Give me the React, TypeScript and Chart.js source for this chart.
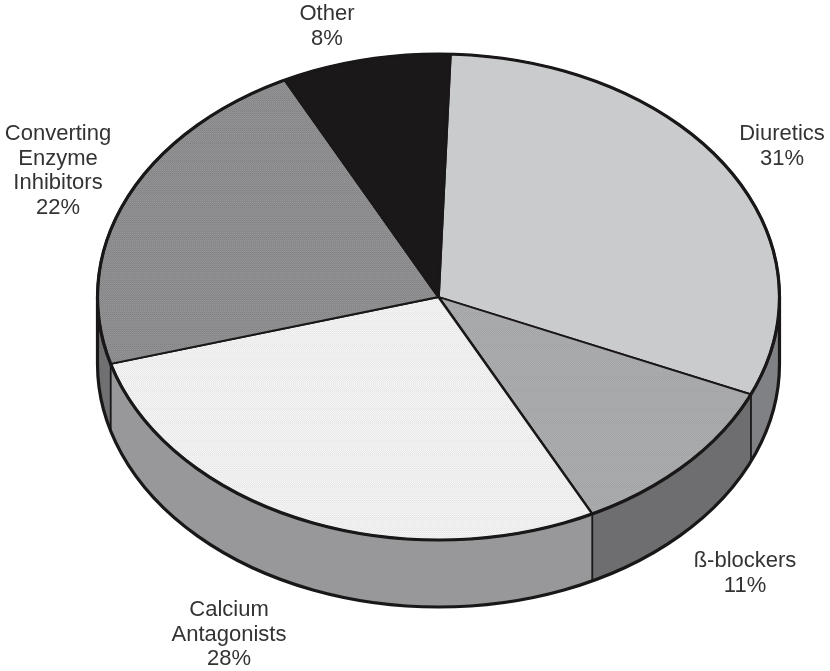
import React, { useEffect, useRef } from "react";
import { Chart, registerables } from "chart.js";

Chart.register(...registerables);

const categories = ["Diuretics", "ß-blockers", "Calcium Antagonists", "Converting Enzyme Inhibitors", "Other"];
const shares = [31, 11, 28, 22, 8];
const labelLines = [
  ["Diuretics", "31%"],
  ["ß-blockers", "11%"],
  ["Calcium", "Antagonists", "28%"],
  ["Converting", "Enzyme", "Inhibitors", "22%"],
  ["Other", "8%"],
];

// Top-face tone and speckle tone of each slice, then the tone of its rim.
const faceColors = ["#c9cbcd", "#adaeb0", "#f6f6f6", "#969698", "#1b1819"];
const speckleColors = ["#c9cbcd", "#9d9ea0", "#e0e0e0", "#7a7a7c", "#1b1819"];
const rimColors = ["#808184", "#6e6e70", "#98989a", "#707072", "#333333"];

// Anchors of the centred label blocks: x centre, first baseline.
const labelAnchors = [
  { x: 782, y: 140 },
  { x: 745, y: 567 },
  { x: 229, y: 616 },
  { x: 58, y: 140 },
  { x: 327, y: 20 },
];

const RADIUS_X = 341;
const SQUASH = 0.7126;
const DEPTH = 67;
const START_ANGLE = 2;
const INK = "#1a1718";

function speckle(base: string, dot: string): CanvasPattern | string {
  if (base === dot) return base;
  const tile = document.createElement("canvas");
  tile.width = 2;
  tile.height = 3;
  const c = tile.getContext("2d")!;
  c.fillStyle = base;
  c.fillRect(0, 0, 2, 3);
  c.fillStyle = dot;
  c.fillRect(0, 0, 1, 1);
  c.fillRect(1, 1.5, 1, 1);
  return c.createPattern(tile, "repeat")!;
}

const tiltedPie = {
  id: "tiltedPie",
  beforeDatasetsDraw(chart: any) {
    const { ctx } = chart;
    const arcs = chart.getDatasetMeta(0).data;
    const { x: cx, y: cy } = arcs[0];
    const ry = RADIUS_X * SQUASH;

    // Rim segments, only where a slice faces the viewer.
    arcs.forEach((arc: any, i: number) => {
      const a = Math.max(arc.startAngle, 0);
      const b = Math.min(arc.endAngle, Math.PI);
      if (a >= b) return;
      ctx.beginPath();
      ctx.ellipse(cx, cy, RADIUS_X, ry, 0, a, b);
      ctx.ellipse(cx, cy + DEPTH, RADIUS_X, ry, 0, b, a, true);
      ctx.closePath();
      ctx.fillStyle = rimColors[i];
      ctx.fill();
    });

    // Vertical seams between rim segments.
    ctx.strokeStyle = INK;
    ctx.lineWidth = 1.8;
    arcs.forEach((arc: any) => {
      const t = arc.endAngle;
      if (t <= 0 || t >= Math.PI) return;
      const px = cx + RADIUS_X * Math.cos(t);
      const py = cy + ry * Math.sin(t);
      ctx.beginPath();
      ctx.moveTo(px, py);
      ctx.lineTo(px, py + DEPTH);
      ctx.stroke();
    });

    // Lower outline of the rim.
    ctx.lineWidth = 3.2;
    ctx.beginPath();
    ctx.moveTo(cx + RADIUS_X, cy);
    ctx.ellipse(cx, cy + DEPTH, RADIUS_X, ry, 0, 0, Math.PI);
    ctx.lineTo(cx - RADIUS_X, cy);
    ctx.stroke();

    // Flatten the circular slices into the tilted disc.
    ctx.save();
    ctx.translate(cx, cy);
    ctx.scale(1, SQUASH);
    ctx.translate(-cx, -cy);
  },
  afterDatasetsDraw(chart: any) {
    const { ctx } = chart;
    ctx.restore();
    const { x: cx, y: cy } = chart.getDatasetMeta(0).data[0];

    // Even outline around the flattened top face.
    ctx.strokeStyle = INK;
    ctx.lineWidth = 3.2;
    ctx.beginPath();
    ctx.ellipse(cx, cy, RADIUS_X, RADIUS_X * SQUASH, 0, 0, Math.PI * 2);
    ctx.stroke();

    // Slice captions.
    ctx.fillStyle = "#333333";
    ctx.font = '22px "Liberation Sans", Arial, sans-serif';
    ctx.textAlign = "center";
    ctx.textBaseline = "alphabetic";
    labelLines.forEach((lines, i) => {
      lines.forEach((line, j) => {
        ctx.fillText(line, labelAnchors[i].x, labelAnchors[i].y + j * 24.6);
      });
    });
  },
};

export default function App() {
  const canvasRef = useRef<HTMLCanvasElement>(null);

  useEffect(() => {
    const chart = new Chart(canvasRef.current!, {
      type: "pie",
      data: {
        labels: categories,
        datasets: [
          {
            data: shares,
            backgroundColor: faceColors.map((c, i) => speckle(c, speckleColors[i])),
            borderColor: INK,
            borderWidth: 2.6,
            borderJoinStyle: "round",
            clip: false,
          } as any,
        ],
      },
      options: {
        responsive: false,
        animation: false,
        events: [],
        radius: RADIUS_X,
        rotation: START_ANGLE,
        layout: { padding: { left: 47, bottom: 77 } },
        plugins: { legend: { display: false }, tooltip: { enabled: false } },
      } as any,
      plugins: [tiltedPie],
    });
    return () => chart.destroy();
  }, []);

  return (
    <div style={{ position: "absolute", left: 0, top: 0, width: 830, height: 671, background: "#fff" }}>
      <canvas ref={canvasRef} width={830} height={671} style={{ display: "block" }} />
    </div>
  );
}
